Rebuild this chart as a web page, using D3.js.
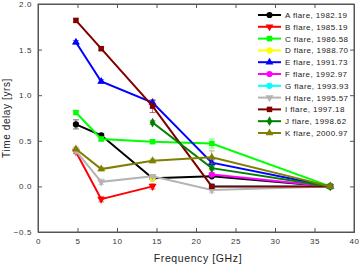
<!DOCTYPE html>
<html>
<head>
<meta charset="utf-8">
<script src="https://cdnjs.cloudflare.com/ajax/libs/d3/7.8.5/d3.min.js"></script>
<style>
body { margin: 0; background: #fff; }
svg { font-family: "Liberation Sans", Arial, sans-serif; }
</style>
</head>
<body>
<div id="chart"></div>
<script>
const w = 360
const h = 267

// frequencies in GHz
const freq = [4.8, 8.0, 14.5, 22.0, 37.0]

const names = ['A flare, 1982.19', 'B flare, 1985.19', 'C flare, 1986.58', 'D flare, 1988.70',
    'E flare, 1991.73', 'F flare, 1992.97', 'G flare, 1993.93', 'H flare, 1995.57',
    'I flare, 1997.18', 'J flare, 1998.62', 'K flare, 2000.97']
const colors = ['#000000', '#ff0000', '#00ff00', '#ffff00', '#0000ff', '#ff00ff',
    '#00ffff', '#b4b4b4', '#800000', '#008000', '#808000']
const shapes = ['circle', 'down', 'square', 'circle', 'up', 'circle', 'circle', 'down', 'square', 'diamond', 'up']

// time delays in years (null = no measurement)
const delayA = [0.68, 0.56, 0.09, 0.11, 0]
const delayB = [0.38, -0.14, 0.0, null, null]
const delayC = [0.81, 0.52, 0.49, 0.47, 0]
const delayD = [null, null, 0.09, null, null]
const delayE = [1.58, 1.15, 0.92, 0.26, 0]
const delayF = [null, null, null, 0.13, 0]
const delayG = [null, null, null, 0.0, 0]
const delayH = [0.39, 0.05, 0.11, -0.04, 0]
const delayI = [1.82, 1.51, 0.88, 0.0, 0]
const delayJ = [null, null, 0.70, 0.20, 0]
const delayK = [0.41, 0.19, 0.28, 0.32, 0]

// error bars
const errA = [0.05, 0.02, 0.01, 0.01, 0.02]
const errB = [0.02, 0.03, 0.03, 0, 0]
const errC = [0.02, 0.02, 0.02, 0.05, 0.02]
const errD = [0, 0, 0.03, 0, 0]
const errE = [0.02, 0.02, 0.02, 0.03, 0.02]
const errF = [0, 0, 0, 0.02, 0.02]
const errG = [0, 0, 0, 0.02, 0.02]
const errH = [0.02, 0.03, 0.02, 0.03, 0.02]
const errI = [0.02, 0.02, 0.07, 0.02, 0.02]
const errJ = [0, 0, 0.02, 0.02, 0.02]
const errK = [0.02, 0.02, 0.02, 0.07, 0.02]

const delays = [delayA, delayB, delayC, delayD, delayE, delayF, delayG, delayH, delayI, delayJ, delayK]
const errs = [errA, errB, errC, errD, errE, errF, errG, errH, errI, errJ, errK]

const xTicks = [0, 5, 10, 15, 20, 25, 30, 35, 40]
const yTicks = [-0.5, 0.0, 0.5, 1.0, 1.5, 2.0]

const pLeft = 38, pRight = 354, pTop = 4, pBottom = 232

const svg = d3.select('#chart')
    .append('svg')
    .attr('width', w)
    .attr('height', h)

const xScale = d3.scaleLinear().domain([0, 40]).range([pLeft, pRight])
const yScale = d3.scaleLinear().domain([-0.5, 2.0]).range([pBottom, pTop])

// frame
svg.append('rect')
    .attr('x', pLeft).attr('y', pTop)
    .attr('width', pRight - pLeft).attr('height', pBottom - pTop)
    .attr('fill', 'none').attr('stroke', '#555').attr('stroke-width', 1)

const xAxis = d3.axisBottom(xScale).tickValues(xTicks).tickSize(-4).tickPadding(6)
    .tickFormat(d3.format('d'))
const yAxis = d3.axisLeft(yScale).tickValues(yTicks).tickSize(-4).tickPadding(6)
    .tickFormat(d3.format('.1f'))

svg.append('g')
    .attr('transform', `translate(0, ${pBottom})`)
    .call(xAxis)
svg.append('g')
    .attr('transform', `translate(${pLeft}, 0)`)
    .call(yAxis)
svg.append('g')
    .attr('transform', `translate(0, ${pTop})`)
    .call(d3.axisTop(xScale).tickValues(xTicks).tickSize(-4).tickFormat(''))
svg.append('g')
    .attr('transform', `translate(${pRight}, 0)`)
    .call(d3.axisRight(yScale).tickValues(yTicks).tickSize(-4).tickFormat(''))

svg.selectAll('.domain').attr('stroke', '#555')
svg.selectAll('.tick line').attr('stroke', '#555')
svg.selectAll('.tick text').attr('font-size', 8).attr('fill', '#333')
    .attr('letter-spacing', 0.6)
    .attr('font-family', '"Liberation Sans", Arial, sans-serif')

svg.append('text')
    .attr('x', (pLeft + pRight) / 2 + 2).attr('y', 262)
    .attr('text-anchor', 'middle').attr('font-size', 10.5).attr('fill', '#222')
    .attr('letter-spacing', 0.6)
    .text('Frequency [GHz]')
svg.append('text')
    .attr('transform', `translate(10, ${(pTop + pBottom) / 2}) rotate(-90)`)
    .attr('text-anchor', 'middle').attr('font-size', 10).attr('fill', '#222')
    .attr('letter-spacing', 0.6)
    .text('Time delay [yrs]')

function symbolPath(shape, size) {
    if (shape === 'circle') return d3.symbol(d3.symbolCircle, size)()
    if (shape === 'square') return d3.symbol(d3.symbolSquare, size)()
    if (shape === 'diamond') return d3.symbol(d3.symbolDiamond, size * 0.9)()
    return d3.symbol(d3.symbolTriangle, size * 0.9)()
}
function symbolRot(shape) {
    return shape === 'down' ? ' rotate(180)' : ''
}

const line = d3.line()
    .x(d => xScale(d.x))
    .y(d => yScale(d.y))

delays.forEach((vals, i) => {
    const pts = vals.map((v, j) => ({ x: freq[j], y: v, e: errs[i][j] }))
        .filter(d => d.y !== null)
    const g = svg.append('g')

    g.append('path')
        .datum(pts)
        .attr('d', line)
        .attr('fill', 'none')
        .attr('stroke', colors[i])
        .attr('stroke-width', 2)

    // error bars
    const eb = g.selectAll('g.eb')
        .data(pts.filter(d => d.e > 0))
        .enter()
        .append('g')
        .attr('stroke', colors[i])
        .attr('stroke-opacity', 0.55)
        .attr('stroke-width', 1)
    eb.append('line')
        .attr('x1', d => xScale(d.x)).attr('x2', d => xScale(d.x))
        .attr('y1', d => yScale(d.y - d.e)).attr('y2', d => yScale(d.y + d.e))
    eb.append('line')
        .attr('x1', d => xScale(d.x) - 3).attr('x2', d => xScale(d.x) + 3)
        .attr('y1', d => yScale(d.y - d.e)).attr('y2', d => yScale(d.y - d.e))
    eb.append('line')
        .attr('x1', d => xScale(d.x) - 3).attr('x2', d => xScale(d.x) + 3)
        .attr('y1', d => yScale(d.y + d.e)).attr('y2', d => yScale(d.y + d.e))

    g.selectAll('path.mk')
        .data(pts)
        .enter()
        .append('path')
        .attr('class', 'mk')
        .attr('d', symbolPath(shapes[i], 30))
        .attr('transform', d => `translate(${xScale(d.x)}, ${yScale(d.y)})` + symbolRot(shapes[i]))
        .attr('fill', colors[i])
})

// legend
const legend = svg.append('g')
names.forEach((name, i) => {
    const ly = 15 + i * 11.8
    legend.append('line')
        .attr('x1', 258).attr('x2', 281)
        .attr('y1', ly).attr('y2', ly)
        .attr('stroke', colors[i]).attr('stroke-width', 2)
    legend.append('path')
        .attr('d', symbolPath(shapes[i], 30))
        .attr('transform', `translate(269.5, ${ly})` + symbolRot(shapes[i]))
        .attr('fill', colors[i])
    legend.append('text')
        .attr('x', 285).attr('y', ly + 3)
        .attr('font-size', 8).attr('fill', '#222')
        .attr('letter-spacing', 0.4)
        .text(name)
})
</script>
</body>
</html>
